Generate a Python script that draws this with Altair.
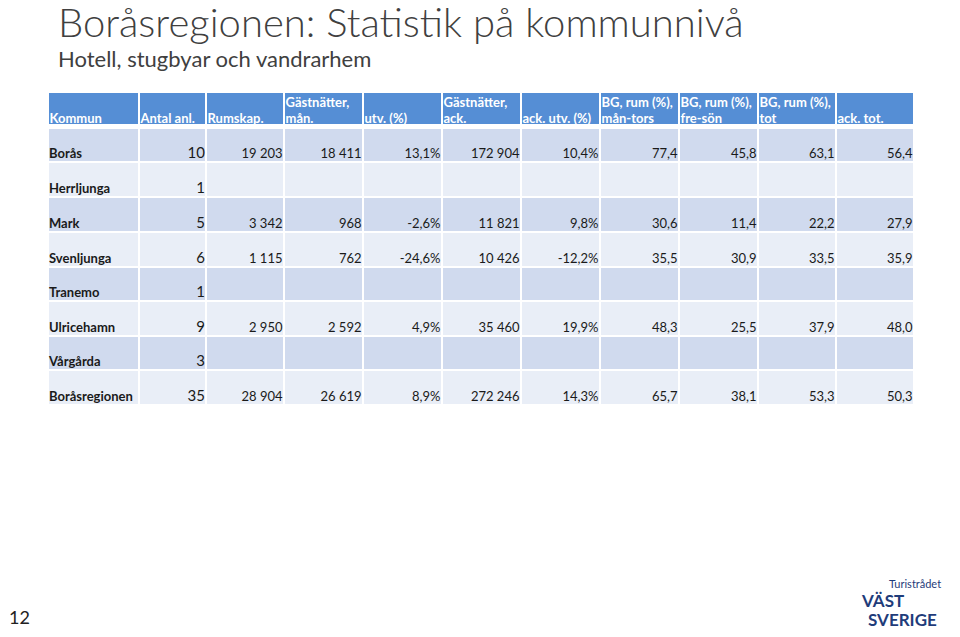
import altair as alt
import pandas as pd

# ---------------- data ----------------
headers = ["Kommun", "Antal anl.", "Rumskap.", "Gästnätter,\nmån.", "utv. (%)",
           "Gästnätter,\nack.", "ack. utv. (%)", "BG, rum (%),\nmån-tors",
           "BG, rum (%),\nfre-sön", "BG, rum (%),\ntot", "ack. tot."]
kommuner = ["Borås", "Herrljunga", "Mark", "Svenljunga", "Tranemo",
            "Ulricehamn", "Vårgårda", "Boråsregionen"]
antal_anl = [10, 1, 5, 6, 1, 9, 3, 35]
rumskap = [19203, None, 3342, 1115, None, 2950, None, 28904]
gastn_man = [18411, None, 968, 762, None, 2592, None, 26619]
utv = [13.1, None, -2.6, -24.6, None, 4.9, None, 8.9]
gastn_ack = [172904, None, 11821, 10426, None, 35460, None, 272246]
ack_utv = [10.4, None, 9.8, -12.2, None, 19.9, None, 14.3]
bg_man_tors = [77.4, None, 30.6, 35.5, None, 48.3, None, 65.7]
bg_fre_son = [45.8, None, 11.4, 30.9, None, 25.5, None, 38.1]
bg_tot = [63.1, None, 22.2, 33.5, None, 37.9, None, 53.3]
ack_tot = [56.4, None, 27.9, 35.9, None, 48.0, None, 50.3]

title = "Boråsregionen: Statistik på kommunnivå"
subtitle = "Hotell, stugbyar och vandrarhem"
page_no = "12"

# ---------------- layout ----------------
col_edges = [48, 139, 206, 284, 363, 442, 521, 600, 679, 758, 836, 914]
row_edges = [128, 162, 197, 232, 267, 301, 336, 370, 405]
head_top, head_bot = 92, 125

HEAD = "#558ED5"
BAND_DARK = "#D0DAEE"
BAND_LIGHT = "#E9EEF7"
FONT = "Lato"
TXT = "#1a1a1a"


def fmt_int(v):
    if v is None:
        return ""
    return f"{v:,}".replace(",", " ")


def fmt_dec(v):
    if v is None:
        return ""
    return f"{v:.1f}".replace(".", ",")


def fmt_pct(v):
    if v is None:
        return ""
    return f"{v:.1f}%".replace(".", ",")


value_cols = [
    [fmt_int(v) for v in rumskap],
    [fmt_int(v) for v in gastn_man],
    [fmt_pct(v) for v in utv],
    [fmt_int(v) for v in gastn_ack],
    [fmt_pct(v) for v in ack_utv],
    [fmt_dec(v) for v in bg_man_tors],
    [fmt_dec(v) for v in bg_fre_son],
    [fmt_dec(v) for v in bg_tot],
    [fmt_dec(v) for v in ack_tot],
]

# cells
cells = []
for c in range(len(headers)):
    cells.append(dict(x0=col_edges[c], x1=col_edges[c + 1], y0=head_top, y1=head_bot, kind="head"))
for r in range(len(kommuner)):
    for c in range(len(headers)):
        cells.append(dict(x0=col_edges[c], x1=col_edges[c + 1], y0=row_edges[r], y1=row_edges[r + 1],
                          kind="dark" if r % 2 == 0 else "light"))
cells_df = pd.DataFrame(cells)

# header text
head_txt = []
for c, h in enumerate(headers):
    lines = h.split("\n")
    n = len(lines)
    for i, ln in enumerate(lines):
        head_txt.append(dict(x=col_edges[c] + 1.5, y=head_bot - 2 - (n - 1 - i) * 16, t=ln))
head_df = pd.DataFrame(head_txt)

names_df = pd.DataFrame([dict(x=col_edges[0] + 1, y=row_edges[r + 1] - 4, t=k) for r, k in enumerate(kommuner)])
antal_df = pd.DataFrame([dict(x=col_edges[2] - 1, y=row_edges[r + 1] - 4, t=str(a)) for r, a in enumerate(antal_anl)])
vals = []
for ci, col in enumerate(value_cols):
    for r, t in enumerate(col):
        if t:
            vals.append(dict(x=col_edges[ci + 3] - 1.5, y=row_edges[r + 1] - 4, t=t))
vals_df = pd.DataFrame(vals)

W, H = 944, 621
xs = alt.Scale(domain=[8, 8 + W], zero=False, nice=False)
ys = alt.Scale(domain=[8, 8 + H], zero=False, nice=False, reverse=True)

X = lambda f: alt.X(f, type="quantitative", scale=xs, axis=None)
Y = lambda f: alt.Y(f, type="quantitative", scale=ys, axis=None)

rects = alt.Chart(cells_df).mark_rect(stroke="white", strokeWidth=2).encode(
    x=X("x0"), x2="x1", y=Y("y0"), y2="y1",
    color=alt.Color("kind:N", scale=alt.Scale(domain=["head", "dark", "light"],
                                              range=[HEAD, BAND_DARK, BAND_LIGHT]), legend=None),
)

head_t = alt.Chart(head_df).mark_text(font=FONT, fontSize=13, fontWeight="bold", color="white",
                                      align="left", baseline="alphabetic").encode(
    x=X("x"), y=Y("y"), text="t:N")

names_t = alt.Chart(names_df).mark_text(font=FONT, fontSize=13, fontWeight="bold", color=TXT,
                                        align="left", baseline="alphabetic").encode(
    x=X("x"), y=Y("y"), text="t:N")

antal_t = alt.Chart(antal_df).mark_text(font=FONT, fontSize=15, color=TXT,
                                        align="right", baseline="alphabetic").encode(
    x=X("x"), y=Y("y"), text="t:N")

vals_t = alt.Chart(vals_df).mark_text(font=FONT, fontSize=13, color=TXT,
                                      align="right", baseline="alphabetic").encode(
    x=X("x"), y=Y("y"), text="t:N")

misc_df = pd.DataFrame([
    dict(x=58, y=37, t=title, k="title"),
    dict(x=58, y=67, t=subtitle, k="sub"),
    dict(x=9, y=624, t=page_no, k="page"),
    dict(x=889, y=588, t="Turistrådet", k="logo_s"),
    dict(x=862, y=607, t="VÄST", k="logo_l"),
    dict(x=868, y=626, t="SVERIGE", k="logo_l"),
])


def misc(kind, **kw):
    return alt.Chart(misc_df[misc_df.k == kind]).mark_text(align="left", baseline="alphabetic", **kw).encode(
        x=X("x"), y=Y("y"), text="t:N")


title_t = misc("title", font=FONT, fontSize=40, fontWeight=300, color="#404040")
sub_t = misc("sub", font=FONT, fontSize=22, color="#404040")
page_t = misc("page", font=FONT, fontSize=18, color="#222222")
logo_s = misc("logo_s", font=FONT, fontSize=11, color="#1F3C7A")
logo_l = misc("logo_l", font=FONT, fontSize=17, fontWeight="bold", color="#1F3C7A")

chart = alt.layer(rects, head_t, names_t, antal_t, vals_t, title_t, sub_t, page_t, logo_s, logo_l).properties(
    width=W, height=H, autosize=alt.AutoSizeParams(type="none"), padding=0, background="white"
).configure_view(stroke=None)

chart.save("out.html", embed_options={"renderer": "svg", "actions": False})
